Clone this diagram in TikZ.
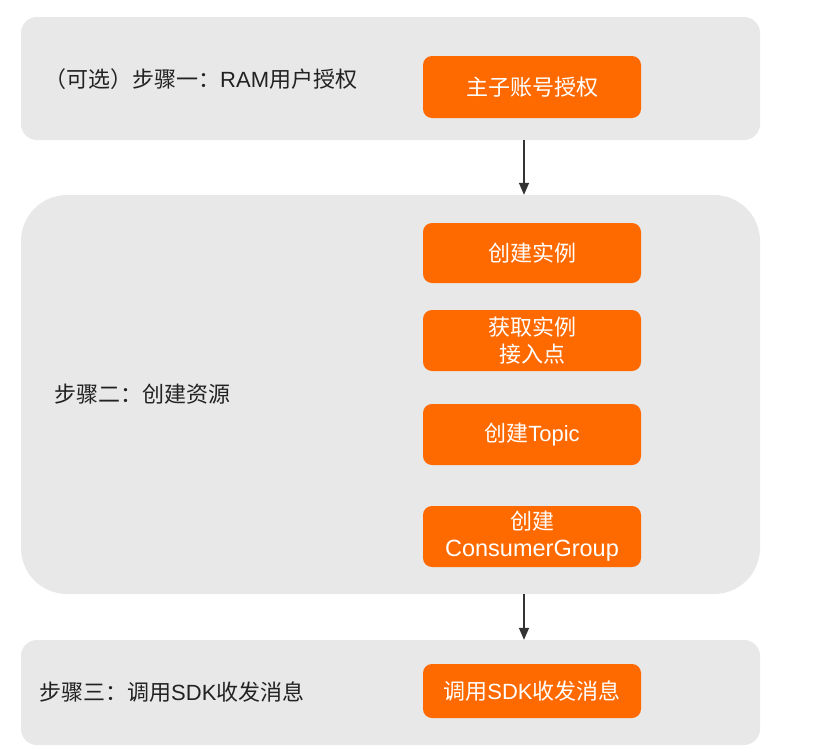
\documentclass[tikz,border=0pt]{standalone}
\usepackage{fontspec}
\setmainfont{Liberation Sans}
\newfontfamily\cjk{Noto Sans CJK SC}
\usetikzlibrary{arrows.meta,calc}
\definecolor{panelgray}{HTML}{E8E8E8}
\definecolor{aliorange}{HTML}{FF6A00}
\definecolor{labeltext}{HTML}{222222}
\definecolor{arrowgray}{HTML}{333333}
\tikzset{
  panel/.style={fill=panelgray, draw=none, rounded corners=#1, minimum width=739pt, inner sep=0pt},
  orangebox/.style={fill=aliorange, draw=none, rounded corners=9pt, minimum width=218pt, inner sep=0pt,
    text=white, font=\fontsize{22}{27}\selectfont, align=center},
  steplabel/.style={anchor=west, text=labeltext, font=\fontsize{22}{26}\selectfont, inner sep=0pt},
  flowarrow/.style={draw=arrowgray, line width=1.5pt, -{Triangle[length=12pt,width=10pt]}}
}
\begin{document}
\begin{tikzpicture}[x=1pt,y=-1pt]
\useasboundingbox (0,0) rectangle (823,755);
% panels
\node[panel=16pt, minimum height=123pt] (p1) at (390.5,78.5) {};
\node[panel=46pt, minimum height=399pt] (p2) at (390.5,394.5) {};
\node[panel=16pt, minimum height=105pt] (p3) at (390.5,692.5) {};
% step labels
\node[steplabel] (l1) at (44,79) {{\cjk （可选）步骤一：}RAM{\cjk 用户授权}};
\node[steplabel] (l2) at (54,394) {{\cjk 步骤二：创建资源}};
\node[steplabel] (l3) at (39,692) {{\cjk 步骤三：调用}SDK{\cjk 收发消息}};
% orange boxes
\node[orangebox, minimum height=62pt] (o1) at (532,87) {{\cjk 主子账号授权}};
\node[orangebox, minimum height=60pt] (o2) at (532,253) {{\cjk 创建实例}};
\node[orangebox, minimum height=61pt] (o3) at (532,340.5) {{\cjk 获取实例}\\{\cjk 接入点}};
\node[orangebox, minimum height=61pt] (o4) at (532,434.5) {{\cjk 创建}Topic};
\node[orangebox, minimum height=61pt] (o5) at (532,536.5) {{\cjk 创建}\\{\fontsize{23.5}{27}\selectfont ConsumerGroup}};
\node[orangebox, minimum height=54pt] (o6) at (532,691) {{\cjk 调用}SDK{\cjk 收发消息}};
% arrows
\coordinate (a1s) at ($(o1.center |- p1.south)+(-8,0)$);
\coordinate (a1e) at ($(o1.center |- p2.north)+(-8,0)$);
\coordinate (a2s) at ($(o5.center |- p2.south)+(-8,0)$);
\coordinate (a2e) at ($(o5.center |- p3.north)+(-8,0)$);
\draw[flowarrow] (a1s) -- (a1e);
\draw[flowarrow] (a2s) -- (a2e);
\end{tikzpicture}
\end{document}
